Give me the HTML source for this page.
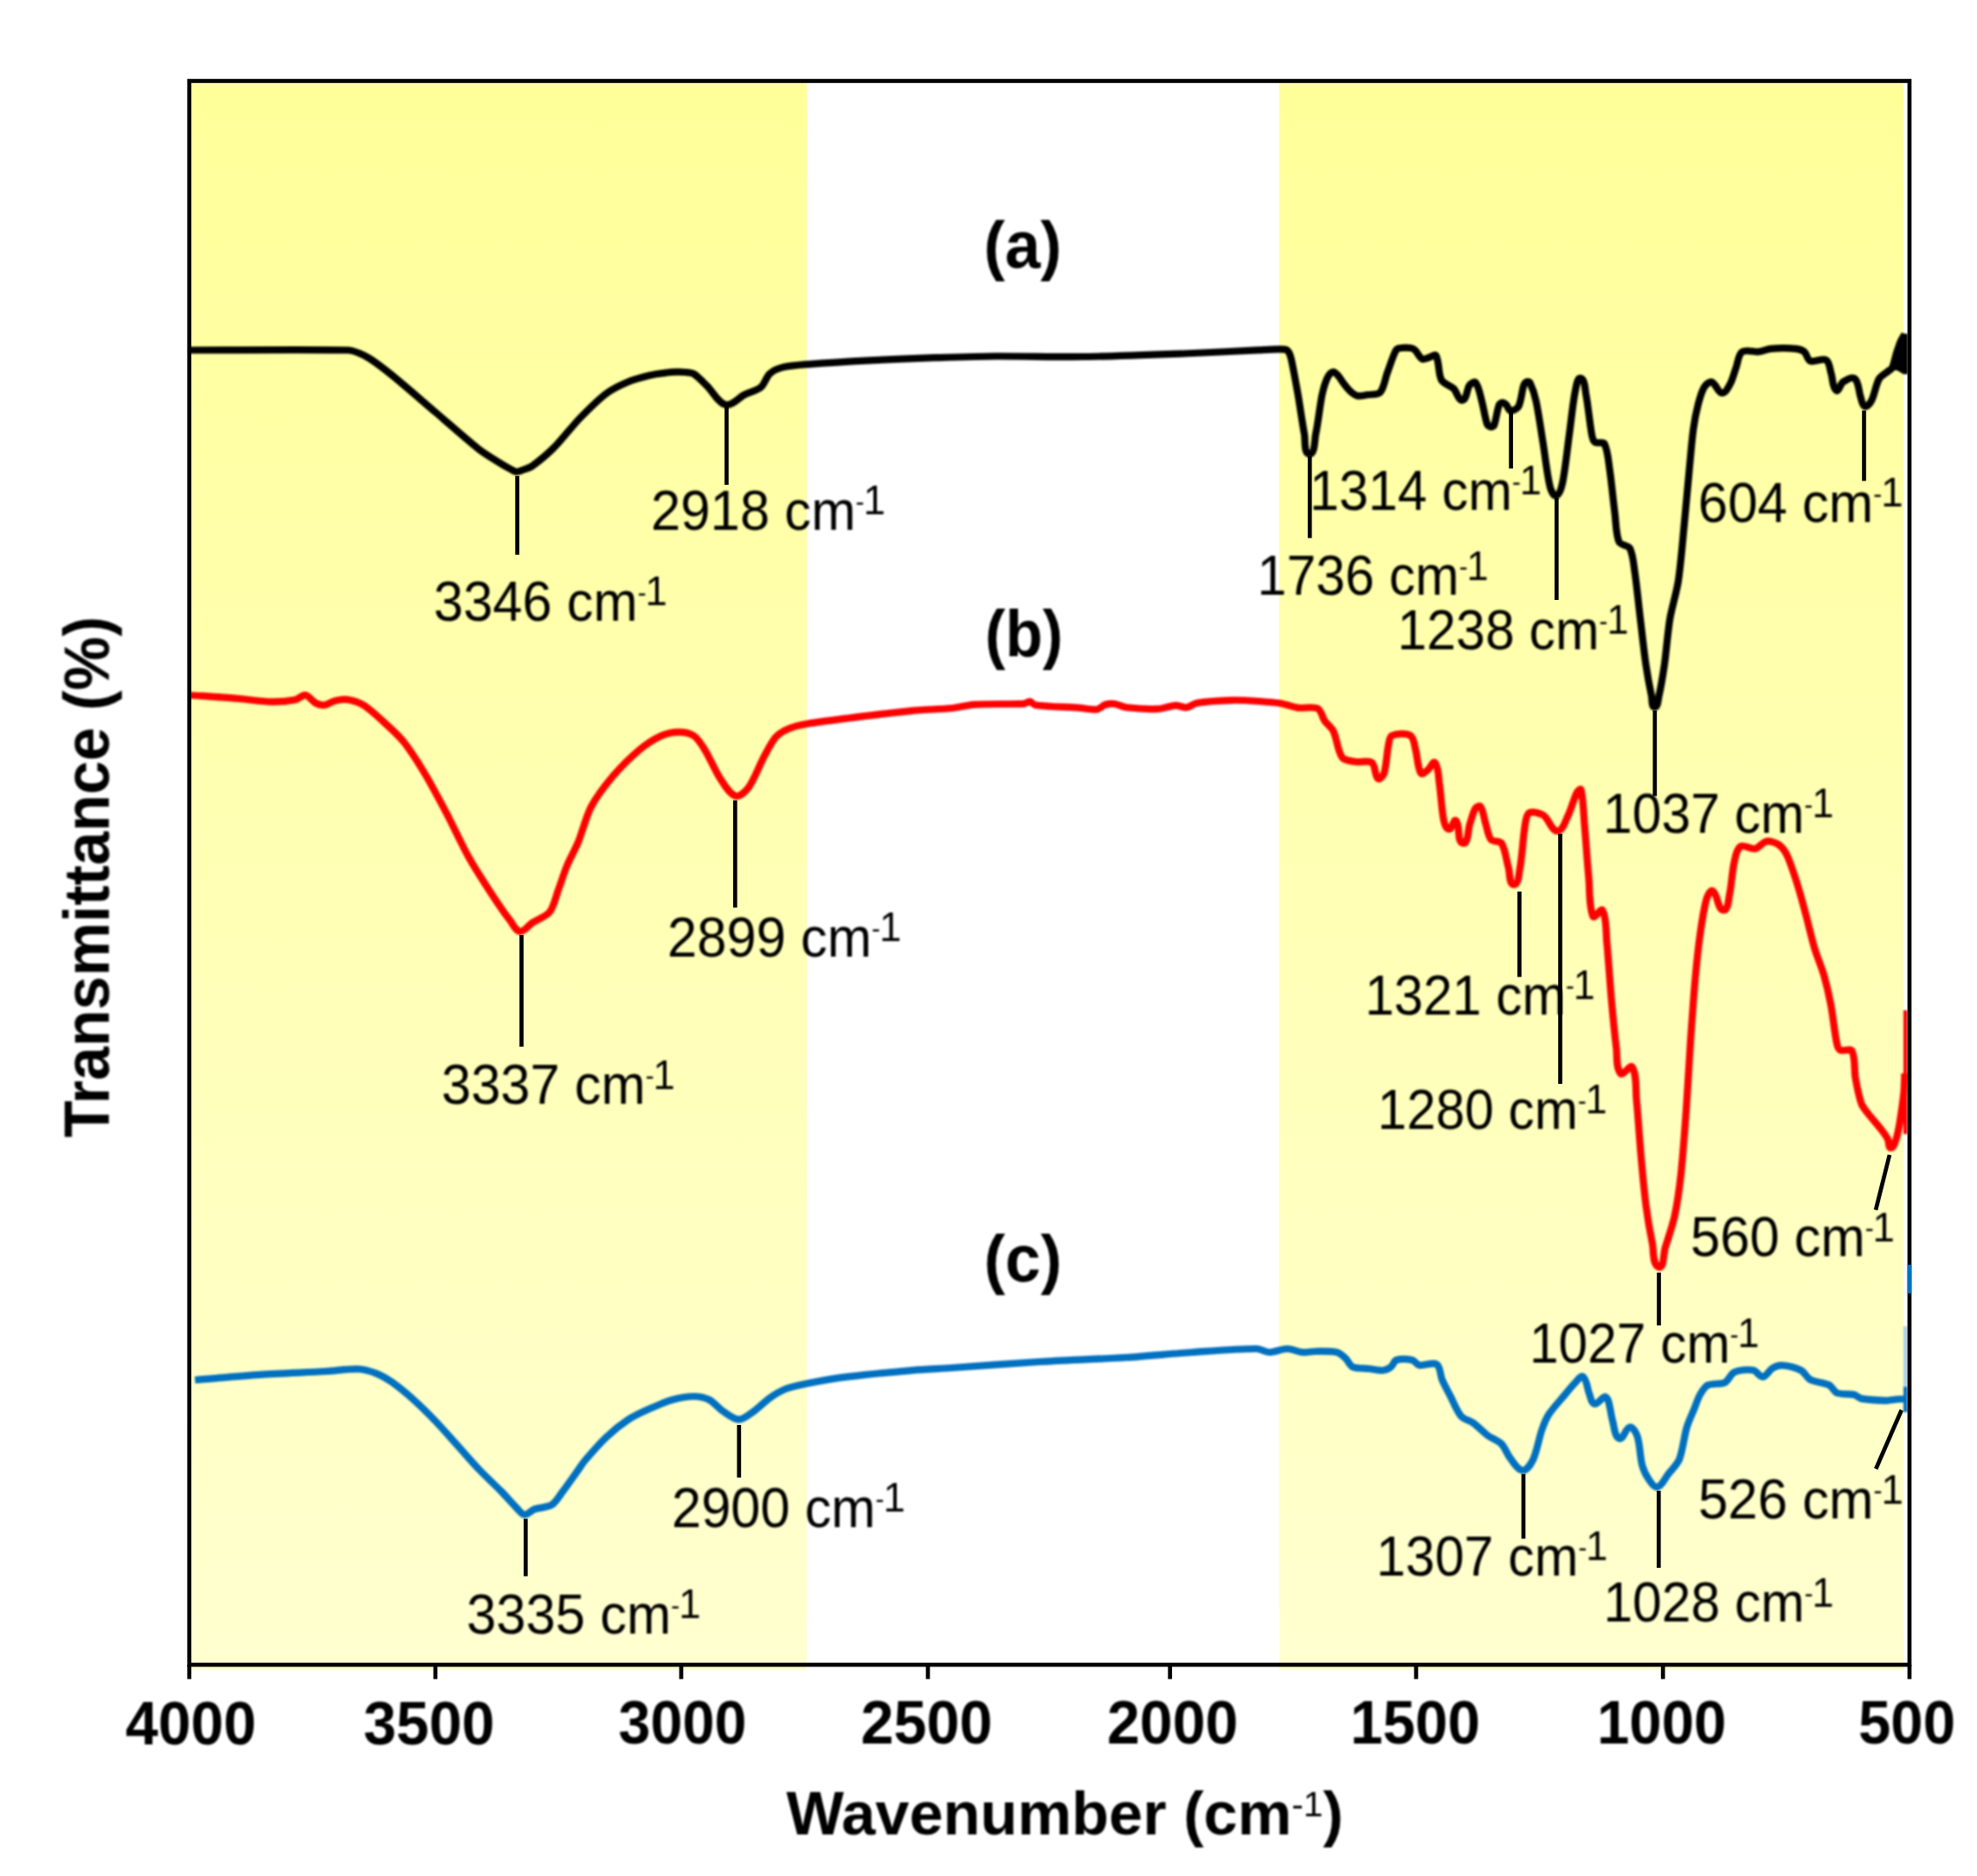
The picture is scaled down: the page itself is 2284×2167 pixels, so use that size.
<!DOCTYPE html>
<html><head><meta charset="utf-8"><title>FTIR spectra</title>
<style>
html,body{margin:0;padding:0;background:#fff}
svg{display:block}
text{font-family:"Liberation Sans",sans-serif;fill:#000}
.b{font-weight:bold}
.c{fill:none;stroke-width:8.2;stroke-linejoin:round;stroke-linecap:butt}
.l{stroke:#000;stroke-width:4.7;fill:none}
</style></head><body>
<svg width="2284" height="2167" viewBox="0 0 2284 2167">
<defs><filter id="sf" x="-2%" y="-2%" width="104%" height="104%" filterUnits="objectBoundingBox"><feGaussianBlur stdDeviation="1"/></filter><linearGradient id="yg" x1="0" y1="0" x2="0" y2="1"><stop offset="0" stop-color="#ffff99"/><stop offset="1" stop-color="#ffffd0"/></linearGradient></defs>
<rect width="2284" height="2167" fill="#fff"/>
<rect x="219" y="94" width="713" height="1835" fill="url(#yg)"/>
<rect x="1477.7" y="94" width="721.5" height="1835" fill="url(#yg)"/>
<g filter="url(#sf)">
<path class="c" stroke="#000" d="M218.0,404.5C269.5,404.5 350.5,403.6 402.0,404.5C405.8,404.6 411.5,406.6 415.0,408.0C418.7,409.4 424.3,412.3 427.6,414.5C435.0,419.4 446.1,427.9 453.0,433.5C467.4,445.2 489.4,464.5 503.5,476.5C517.6,488.5 539.4,508.0 554.0,519.5C560.7,524.7 572.2,531.5 579.4,536.0C582.3,537.8 587.0,540.4 590.0,542.0C591.9,543.0 594.9,544.9 597.0,545.0C599.3,545.1 602.8,543.3 605.0,542.5C607.8,541.5 612.4,540.2 614.8,538.4C622.3,532.9 633.5,523.6 640.0,517.0C649.0,508.0 661.2,492.1 670.0,483.0C678.2,474.6 691.2,461.5 700.6,454.5C707.0,449.7 718.5,444.1 725.9,441.0C732.7,438.2 743.9,435.2 751.0,433.5C756.2,432.3 764.7,431.2 770.0,430.5C773.2,430.1 778.3,429.8 781.5,429.7C784.4,429.6 789.1,429.7 792.0,430.0C794.8,430.3 799.4,430.5 801.7,432.0C806.6,435.1 812.8,442.0 817.0,446.0C823.1,451.9 830.1,465.7 838.4,467.6C845.1,469.2 853.9,459.1 860.0,456.0C865.2,453.4 874.5,451.1 879.0,447.4C883.0,444.1 885.3,435.5 889.0,432.0C892.2,428.9 898.7,425.7 903.0,424.6C911.2,422.5 924.6,421.5 933.0,420.8C952.9,419.2 984.1,417.3 1004.0,416.3C1025.3,415.2 1058.7,413.9 1080.0,413.2C1099.6,412.6 1130.4,411.6 1150.0,411.5C1178.5,411.3 1223.2,412.4 1251.7,412.0C1287.1,411.5 1342.6,409.3 1378.0,408.0C1399.3,407.2 1432.7,405.3 1454.0,404.4C1462.5,404.0 1475.9,403.0 1484.4,403.6C1486.0,403.7 1488.2,405.6 1489.0,407.0C1490.4,409.2 1491.4,413.3 1492.0,415.8C1494.4,427.0 1497.6,444.7 1499.6,456.0C1501.8,468.8 1504.6,489.0 1507.0,501.7C1508.2,508.2 1506.1,524.5 1512.7,524.5C1519.4,524.5 1518.6,508.3 1520.0,501.7C1522.7,489.0 1524.8,468.7 1527.4,456.0C1528.6,450.3 1531.2,441.3 1533.7,436.0C1534.8,433.8 1537.5,430.1 1540.0,429.7C1542.0,429.4 1544.6,432.5 1546.0,434.0C1548.2,436.4 1550.7,441.0 1552.7,443.6C1554.6,446.1 1557.7,449.9 1560.0,452.0C1562.0,453.8 1565.5,456.7 1568.2,457.2C1571.5,457.9 1576.7,456.5 1580.0,456.0C1584.1,455.4 1591.7,456.3 1594.5,453.2C1598.9,448.3 1600.3,437.2 1602.6,431.0C1605.4,423.6 1609.0,411.6 1612.7,404.6C1613.5,403.1 1616.4,402.2 1618.0,402.0C1621.3,401.5 1626.7,401.5 1630.0,402.0C1631.6,402.2 1633.9,403.5 1635.0,404.6C1637.6,407.1 1639.8,413.0 1643.0,414.7C1645.0,415.8 1648.8,413.6 1651.0,413.0C1653.3,412.4 1657.9,408.7 1659.0,410.7C1662.9,417.8 1661.5,431.8 1665.3,439.0C1667.6,443.3 1676.0,445.6 1679.5,449.0C1682.9,452.2 1685.0,463.3 1689.6,462.3C1694.8,461.2 1694.5,449.3 1697.7,445.0C1699.0,443.3 1703.5,440.3 1704.8,442.0C1708.7,447.0 1710.2,457.2 1711.9,463.3C1713.9,470.6 1715.6,482.4 1718.0,489.6C1718.5,491.0 1720.6,492.6 1722.0,493.0C1723.2,493.3 1725.6,492.7 1726.0,491.6C1728.5,485.1 1729.5,473.9 1732.0,467.4C1732.5,466.2 1734.7,465.0 1736.0,465.0C1737.3,465.0 1739.1,466.5 1740.0,467.4C1741.7,469.1 1742.8,474.1 1745.2,474.4C1748.1,474.8 1753.1,472.0 1754.4,469.4C1757.6,463.2 1758.1,451.7 1760.4,445.0C1760.9,443.6 1762.6,441.6 1764.0,441.0C1764.9,440.6 1767.1,441.1 1767.5,442.0C1770.2,447.7 1773.3,457.2 1774.6,463.3C1777.5,476.8 1780.5,498.3 1782.7,511.9C1785.0,526.0 1787.3,548.5 1790.8,562.4C1791.6,565.8 1794.6,573.5 1797.9,572.6C1802.2,571.4 1804.1,562.7 1805.0,558.4C1808.3,542.7 1810.8,517.6 1813.0,501.7C1815.0,487.6 1817.1,465.2 1820.0,451.2C1820.9,446.9 1822.1,435.6 1826.2,437.0C1831.3,438.7 1831.2,449.9 1832.2,455.2C1834.8,468.7 1836.7,490.3 1839.3,503.8C1839.7,506.0 1841.1,509.8 1843.0,511.0C1845.5,512.6 1852.1,509.9 1853.5,512.5C1857.5,520.0 1858.3,533.8 1859.6,542.2C1861.7,556.3 1863.8,578.7 1865.6,592.8C1866.8,602.1 1866.8,617.4 1870.5,626.0C1872.1,629.7 1881.1,629.8 1883.0,633.4C1886.6,640.5 1887.5,653.3 1888.7,661.2C1890.9,676.1 1893.2,699.6 1895.0,714.5C1896.8,729.4 1899.3,752.9 1901.5,767.8C1903.0,778.0 1905.9,793.9 1908.0,804.0C1908.8,807.7 1907.8,816.9 1911.6,816.9C1915.5,816.9 1915.6,807.8 1916.5,804.0C1918.8,794.0 1921.4,778.0 1922.9,767.8C1925.0,752.9 1926.8,729.3 1929.3,714.5C1931.3,702.5 1936.9,684.1 1938.8,672.0C1941.5,654.7 1943.7,627.4 1945.4,610.0C1947.2,591.5 1949.7,562.5 1951.5,544.0C1952.8,530.5 1954.5,509.2 1956.3,495.7C1957.4,487.4 1959.9,474.6 1962.0,466.5C1963.5,460.9 1965.9,451.9 1969.0,447.0C1970.5,444.5 1974.9,440.4 1977.7,441.3C1982.3,442.9 1984.6,453.6 1989.4,454.0C1993.4,454.4 1997.1,446.8 1999.0,443.2C2001.8,438.1 2003.9,429.2 2005.9,423.8C2007.7,418.9 2008.3,409.2 2012.7,406.3C2017.2,403.3 2026.6,406.9 2032.0,406.3C2035.9,405.9 2041.8,403.1 2045.7,402.8C2053.8,402.1 2066.7,402.1 2074.8,402.8C2077.7,403.1 2082.3,404.4 2084.5,406.3C2087.2,408.6 2088.0,415.7 2091.3,417.0C2096.1,418.9 2105.4,413.3 2109.8,416.0C2113.8,418.4 2114.1,427.2 2115.6,431.6C2117.4,437.0 2116.8,447.7 2121.4,451.0C2124.2,453.0 2126.3,443.2 2129.2,441.3C2132.5,439.2 2139.8,434.8 2142.8,437.4C2147.6,441.5 2147.4,452.9 2149.6,458.8C2150.7,461.9 2151.4,468.5 2154.5,469.5C2157.2,470.4 2160.9,465.3 2162.2,462.7C2165.6,456.0 2167.3,443.9 2171.0,437.4C2172.9,434.0 2178.7,431.0 2181.7,428.5C2182.9,427.5 2185.4,426.4 2186.0,425.0C2188.0,420.5 2189.5,412.7 2191.0,408.0C2192.3,404.0 2194.3,397.8 2196.0,394.0C2197.0,391.6 2199.2,388.2 2200.5,386.0"/>
<path d="M2186,427L2199,385.5L2204,385.5L2204,432.3L2199,432.3L2192,428Z" fill="#000"/>
<path class="c" stroke="#ff0000" d="M220.0,803.0C235.7,804.1 260.3,805.7 275.9,807.0C286.5,807.9 303.1,810.5 313.8,810.7C321.6,810.8 333.9,809.7 341.6,808.2C345.0,807.5 349.5,802.4 353.0,803.0C357.0,803.7 360.8,810.1 364.4,812.0C367.0,813.4 371.6,814.8 374.5,814.5C378.3,814.1 383.3,810.2 387.0,809.4C391.2,808.5 398.1,807.5 402.3,808.2C407.5,809.0 415.5,811.8 420.0,814.5C426.2,818.3 434.6,826.1 440.0,831.0C447.4,837.7 459.3,848.2 465.6,856.0C473.7,865.9 484.4,883.0 491.0,894.0C498.5,906.5 509.2,926.8 516.0,939.7C523.3,953.7 533.7,976.2 541.4,990.0C547.9,1001.7 559.4,1019.5 566.7,1030.7C572.8,1040.1 582.7,1054.7 589.5,1063.6C592.3,1067.4 596.2,1075.6 600.9,1076.0C605.7,1076.5 610.8,1068.6 614.8,1066.0C620.4,1062.3 630.9,1058.7 635.0,1053.5C639.8,1047.5 642.3,1035.2 645.0,1028.0C647.9,1020.2 651.8,1007.7 655.0,1000.0C658.3,992.2 664.8,980.5 668.0,972.6C672.6,961.4 677.3,942.7 682.9,932.0C688.6,921.3 700.2,906.0 708.0,896.7C715.8,887.5 729.3,874.0 738.5,866.3C745.0,860.9 756.1,853.5 763.8,850.0C769.1,847.6 778.2,845.6 784.0,845.6C789.1,845.6 797.5,847.1 801.7,850.0C806.5,853.3 811.4,861.4 814.4,866.3C819.9,875.2 826.2,890.5 832.0,899.2C836.2,905.5 842.6,917.3 849.8,919.5C854.7,921.0 862.0,913.5 865.0,909.3C871.5,900.3 877.4,883.7 882.7,874.0C886.3,867.4 891.5,856.5 896.6,851.0C900.2,847.0 908.0,843.0 913.0,841.0C918.3,838.8 927.3,837.0 933.0,836.0C945.8,833.8 966.0,831.3 978.8,829.7C1000.0,827.0 1033.3,822.9 1054.6,820.8C1067.3,819.6 1087.3,819.3 1100.0,818.0C1107.1,817.3 1118.1,814.2 1125.3,813.8C1141.6,812.8 1167.2,813.7 1183.5,812.8C1185.4,812.7 1187.9,810.0 1189.8,810.3C1191.9,810.6 1193.9,814.2 1196.0,814.5C1210.1,816.3 1232.5,816.6 1246.7,817.6C1252.4,818.0 1261.3,820.2 1267.0,819.5C1270.2,819.1 1274.0,815.0 1277.0,814.0C1279.7,813.1 1284.2,812.6 1287.0,813.0C1291.4,813.6 1297.9,816.8 1302.3,817.3C1312.2,818.4 1327.8,819.3 1337.7,818.9C1343.5,818.6 1352.2,815.1 1358.0,814.8C1361.6,814.6 1367.0,817.6 1370.6,817.2C1374.3,816.8 1379.3,812.6 1383.0,812.0C1394.3,810.2 1412.3,809.1 1423.7,808.8C1432.2,808.6 1445.5,809.4 1454.0,810.0C1461.1,810.5 1472.4,811.3 1479.4,812.5C1485.2,813.5 1493.8,816.8 1499.6,817.6C1505.9,818.5 1516.6,815.6 1522.3,818.4C1526.4,820.4 1527.7,828.8 1530.3,832.6C1532.8,836.2 1538.6,840.7 1540.5,844.7C1544.4,852.8 1545.3,867.8 1550.6,875.0C1553.4,878.8 1562.1,879.2 1566.8,880.0C1571.8,880.9 1581.0,877.9 1585.0,881.0C1589.4,884.4 1587.9,895.8 1592.0,899.4C1594.0,901.1 1598.2,895.8 1599.0,893.3C1601.7,884.6 1602.1,870.0 1604.0,861.0C1604.7,857.7 1605.0,851.1 1608.0,849.8C1613.5,847.4 1624.4,846.6 1629.5,849.8C1633.8,852.5 1634.2,862.1 1635.6,867.0C1637.6,874.3 1637.6,886.9 1641.6,893.3C1643.0,895.4 1647.7,890.8 1649.7,889.3C1652.3,887.3 1655.7,878.5 1657.8,881.0C1662.2,886.4 1661.8,898.5 1662.9,905.4C1664.7,917.3 1665.5,936.2 1668.0,948.0C1668.7,951.2 1670.7,958.0 1674.0,958.0C1677.6,958.0 1679.5,945.5 1682.0,948.0C1687.4,953.4 1682.6,972.2 1690.0,974.0C1696.4,975.6 1695.8,958.2 1698.0,952.0C1699.8,946.9 1701.6,938.4 1704.4,933.8C1705.3,932.3 1709.4,930.2 1710.4,931.7C1713.7,936.6 1714.7,946.3 1716.5,952.0C1718.1,957.1 1719.2,965.9 1722.6,970.0C1724.9,972.7 1732.8,971.0 1734.7,974.0C1739.1,981.1 1740.4,994.6 1742.8,1002.6C1744.4,1008.0 1743.3,1021.8 1748.9,1021.8C1754.6,1021.8 1754.9,1008.2 1756.0,1002.6C1758.6,988.6 1759.6,966.1 1762.0,952.0C1762.7,948.1 1763.4,940.5 1767.0,938.8C1771.2,936.8 1779.4,939.4 1783.3,941.9C1789.0,945.6 1792.6,960.0 1799.4,960.0C1805.5,960.0 1808.9,947.4 1811.6,941.9C1815.1,934.9 1818.2,922.7 1821.7,915.6C1822.4,914.1 1826.1,910.4 1826.5,912.0C1829.2,923.3 1829.6,941.8 1830.6,953.4C1832.1,970.5 1833.9,997.5 1835.5,1014.6C1836.7,1027.0 1835.5,1047.3 1840.4,1058.7C1841.9,1062.1 1849.6,1048.2 1851.4,1051.4C1856.3,1060.5 1855.3,1077.7 1856.3,1088.0C1858.0,1105.1 1859.7,1132.2 1861.2,1149.3C1862.7,1166.5 1865.2,1193.4 1867.3,1210.5C1868.3,1218.8 1866.8,1233.6 1872.2,1240.0C1875.0,1243.3 1883.5,1228.8 1885.7,1232.5C1891.2,1241.6 1889.5,1259.7 1890.6,1270.3C1892.3,1287.4 1894.0,1314.4 1895.5,1331.5C1897.0,1348.7 1899.4,1375.6 1901.6,1392.7C1903.2,1405.1 1906.5,1424.5 1909.0,1436.8C1910.6,1444.4 1908.9,1461.2 1916.3,1463.7C1922.5,1465.8 1921.7,1447.9 1923.6,1441.7C1926.8,1431.5 1932.3,1415.5 1934.6,1405.0C1937.5,1391.4 1940.5,1369.8 1942.0,1356.0C1944.2,1335.5 1946.5,1303.2 1948.0,1282.6C1949.6,1260.3 1951.5,1225.3 1953.0,1203.0C1954.4,1182.6 1956.7,1150.4 1958.5,1130.0C1959.8,1116.0 1962.0,1093.9 1964.0,1080.0C1965.6,1068.4 1968.2,1050.2 1971.4,1039.0C1972.3,1035.7 1975.8,1027.5 1978.7,1029.3C1984.7,1033.1 1984.0,1050.5 1991.0,1051.4C1996.8,1052.1 1997.0,1037.5 1998.3,1031.8C2000.4,1022.3 2001.1,1007.0 2003.2,997.5C2004.5,991.8 2005.7,981.3 2010.5,978.0C2014.5,975.2 2022.9,981.4 2027.7,980.4C2032.0,979.5 2036.6,972.6 2041.0,971.8C2044.9,971.1 2051.3,973.3 2054.6,975.5C2058.2,978.0 2062.5,983.7 2064.4,987.7C2068.8,996.9 2073.5,1012.3 2076.6,1022.0C2079.7,1031.7 2083.8,1047.2 2086.4,1057.0C2089.2,1067.6 2093.1,1084.5 2096.2,1095.0C2098.8,1103.8 2104.4,1117.2 2107.0,1126.0C2109.7,1135.4 2113.2,1150.4 2115.0,1160.0C2117.4,1172.5 2119.4,1192.5 2122.0,1205.0C2122.5,1207.5 2123.8,1211.9 2126.0,1213.0C2129.4,1214.7 2137.7,1210.7 2139.5,1214.0C2143.7,1221.7 2141.9,1236.4 2143.5,1245.0C2145.0,1253.5 2147.6,1266.9 2150.5,1275.0C2151.9,1278.8 2156.2,1283.8 2158.7,1287.0C2162.5,1291.9 2169.0,1299.1 2172.8,1304.0C2175.3,1307.2 2179.1,1312.4 2181.0,1316.0C2182.4,1318.6 2181.5,1326.0 2184.5,1326.0C2187.8,1326.0 2189.4,1319.1 2190.5,1316.0C2192.2,1311.1 2193.6,1303.1 2194.5,1298.0C2195.5,1292.4 2196.7,1283.6 2197.5,1278.0C2198.1,1273.5 2199.1,1266.5 2199.5,1262.0C2200.0,1255.9 2200.2,1246.2 2200.5,1240.0"/>
<path d="M2201.3,1167V1310" stroke="#ff0000" stroke-width="4.6" fill="none"/>
<path class="c" stroke="#0070c0" d="M225.3,1594.0C246.5,1592.3 279.8,1589.2 301.0,1587.8C322.3,1586.4 355.7,1585.2 377.0,1584.0C387.6,1583.4 404.3,1581.0 415.0,1581.5C420.8,1581.8 429.6,1584.5 435.0,1586.6C440.4,1588.7 448.3,1593.4 453.0,1596.7C460.4,1601.9 471.3,1611.0 478.0,1617.0C485.4,1623.7 496.6,1634.8 503.5,1642.0C510.8,1649.6 521.7,1662.2 528.8,1670.0C535.9,1677.8 546.7,1690.4 554.0,1698.0C560.9,1705.2 572.4,1715.9 579.4,1723.0C584.5,1728.2 591.9,1736.9 597.0,1742.0C599.3,1744.3 602.7,1749.5 606.0,1749.7C609.6,1749.9 613.9,1744.6 617.3,1743.4C622.8,1741.4 632.6,1741.4 637.5,1738.3C642.2,1735.4 646.7,1727.4 650.0,1723.0C655.2,1716.1 663.0,1705.0 668.0,1698.0C670.1,1695.1 673.0,1690.4 675.3,1687.7C682.1,1679.7 693.0,1667.2 700.6,1660.0C707.2,1653.7 718.3,1644.7 725.9,1639.7C732.5,1635.4 743.8,1630.2 751.0,1627.0C758.0,1623.9 769.1,1619.0 776.5,1617.0C783.4,1615.1 794.6,1613.0 801.7,1613.0C806.8,1613.0 814.9,1614.7 819.5,1617.0C824.4,1619.5 830.0,1626.5 834.6,1629.6C839.6,1632.9 847.6,1639.5 853.6,1639.7C858.8,1639.9 865.7,1633.8 870.0,1630.8C875.9,1626.7 884.1,1618.5 890.0,1614.4C894.7,1611.1 902.6,1606.4 908.0,1604.3C914.7,1601.7 925.9,1599.4 933.0,1598.0C945.8,1595.5 965.9,1592.0 978.8,1590.4C1000.0,1587.8 1033.3,1584.6 1054.6,1582.8C1067.3,1581.7 1087.3,1580.9 1100.0,1580.0C1128.3,1578.1 1172.7,1574.7 1201.0,1573.0C1229.3,1571.3 1273.7,1569.8 1302.0,1568.0C1323.3,1566.7 1356.7,1563.4 1378.0,1562.0C1398.6,1560.6 1430.9,1558.0 1451.5,1558.0C1455.9,1558.0 1462.3,1562.0 1466.7,1562.0C1472.5,1562.0 1481.2,1558.0 1487.0,1558.0C1492.1,1558.0 1499.6,1561.5 1504.6,1562.0C1508.9,1562.4 1515.7,1561.0 1520.0,1561.0C1526.9,1561.0 1537.8,1560.5 1544.5,1562.0C1547.9,1562.8 1552.1,1566.7 1554.6,1569.0C1557.2,1571.5 1559.4,1577.5 1562.7,1579.0C1567.4,1581.1 1575.9,1580.4 1581.0,1581.0C1585.5,1581.5 1592.5,1583.3 1597.0,1583.0C1600.0,1582.8 1604.6,1580.8 1607.0,1579.0C1609.3,1577.3 1610.6,1571.9 1613.3,1571.0C1618.1,1569.4 1626.5,1569.9 1631.5,1571.0C1634.3,1571.6 1636.8,1576.5 1639.6,1577.0C1645.2,1578.0 1655.0,1573.0 1659.8,1576.0C1664.2,1578.7 1663.9,1588.6 1665.9,1593.3C1668.4,1599.1 1673.1,1607.9 1676.0,1613.5C1679.3,1619.8 1683.4,1630.4 1688.0,1635.8C1691.0,1639.3 1698.6,1641.2 1702.3,1643.9C1707.2,1647.4 1713.7,1654.4 1718.5,1658.0C1722.8,1661.2 1730.9,1664.2 1734.7,1668.0C1738.5,1671.8 1741.4,1680.2 1744.8,1684.4C1748.3,1688.8 1753.4,1698.1 1759.0,1698.5C1763.8,1698.9 1768.9,1690.7 1771.0,1686.4C1775.3,1677.3 1777.9,1661.5 1781.2,1652.0C1783.0,1646.7 1786.3,1638.5 1789.3,1633.8C1793.7,1627.0 1802.3,1617.7 1807.5,1611.5C1810.8,1607.5 1816.0,1601.1 1819.7,1597.4C1822.0,1595.1 1826.2,1588.4 1828.8,1590.3C1833.4,1593.7 1833.7,1604.2 1835.9,1609.5C1837.4,1613.0 1838.3,1620.8 1842.0,1621.6C1846.0,1622.5 1850.0,1614.4 1854.0,1613.5C1855.6,1613.1 1857.5,1616.4 1858.0,1618.0C1860.1,1624.5 1861.3,1635.4 1863.2,1642.0C1864.9,1647.7 1865.3,1659.9 1870.9,1661.7C1875.7,1663.3 1878.0,1649.0 1883.0,1648.5C1886.9,1648.1 1890.5,1655.8 1891.7,1659.5C1894.6,1668.4 1894.8,1683.4 1897.2,1692.5C1898.5,1697.4 1902.0,1704.8 1904.9,1709.0C1907.0,1712.0 1911.2,1718.6 1914.8,1717.7C1919.9,1716.4 1923.6,1707.5 1926.8,1703.4C1930.6,1698.6 1937.7,1691.6 1940.0,1685.9C1944.0,1675.9 1945.7,1658.8 1948.8,1648.5C1950.7,1642.2 1955.1,1632.7 1957.6,1626.6C1959.4,1622.2 1961.6,1615.1 1964.0,1611.0C1966.0,1607.6 1969.4,1601.7 1973.0,1600.0C1978.0,1597.6 1987.7,1599.4 1992.7,1597.0C1996.8,1595.0 1999.5,1586.8 2003.7,1585.0C2009.4,1582.5 2019.5,1581.7 2025.6,1582.7C2029.3,1583.3 2032.9,1590.8 2036.6,1590.4C2040.7,1590.0 2044.1,1582.6 2047.6,1580.5C2050.3,1578.9 2055.3,1577.0 2058.5,1577.2C2064.8,1577.6 2074.8,1579.9 2080.5,1582.7C2084.4,1584.6 2087.6,1591.7 2091.5,1593.7C2097.1,1596.7 2107.7,1597.2 2113.4,1600.0C2116.6,1601.6 2118.9,1607.7 2122.2,1609.0C2127.4,1611.0 2136.6,1609.7 2142.0,1611.0C2144.7,1611.6 2148.0,1615.1 2150.7,1615.6C2158.6,1617.0 2171.3,1617.6 2179.3,1617.8C2182.3,1617.9 2187.0,1616.8 2190.0,1616.5C2192.5,1616.3 2196.5,1616.1 2199.0,1616.0"/>
<path d="M2201.3,1602V1631.2" stroke="#0070c0" stroke-width="4.6" fill="none"/>
<path d="M2201.3,1532V1602" stroke="#0070c0" stroke-width="4.6" stroke-opacity=".33" fill="none"/>
</g>
<rect x="218.7" y="93.5" width="1987.3" height="1829.5" fill="none" stroke="#000" stroke-width="4.7"/>
<path d="M2206,1461V1494" stroke="#0070c0" stroke-width="4.6" fill="none"/>
<path class="l" d="M218.7,1923V1939.5"/><path class="l" d="M503,1923V1939.5"/><path class="l" d="M787,1923V1939.5"/><path class="l" d="M1072,1923V1939.5"/><path class="l" d="M1351.7,1923V1939.5"/><path class="l" d="M1636,1923V1939.5"/><path class="l" d="M1921.2,1923V1939.5"/><path class="l" d="M2206,1923V1939.5"/>
<path class="l" d="M597.6,549.8L597.6,640.8"/><path class="l" d="M839.4,470L839.4,560"/><path class="l" d="M1513.2,527L1513.2,621.5"/><path class="l" d="M1745.6,475.4L1745.6,541.2"/><path class="l" d="M1798.3,575L1798.3,693"/><path class="l" d="M2153.5,474.3L2153.5,555.5"/><path class="l" d="M1911.8,820.6L1911.8,919.5"/><path class="l" d="M602.5,1080L602.5,1209"/><path class="l" d="M849.3,924.5L849.3,1048.4"/><path class="l" d="M1755.4,1029.8L1755.4,1128.5"/><path class="l" d="M1802.5,963L1802.5,1252"/><path class="l" d="M2183,1334L2167,1397.6"/><path class="l" d="M1916.5,1470L1916.5,1531"/><path class="l" d="M607.3,1754.4L607.3,1820.7"/><path class="l" d="M853.8,1646L853.8,1706.7"/><path class="l" d="M1760,1702.6L1760,1777.4"/><path class="l" d="M1916.3,1722L1916.3,1811"/><path class="l" d="M2196.8,1628.8L2167.2,1696.8"/>
<g filter="url(#sf)">
<g transform="translate(501,716.7) scale(0.9912,1.05)"><text id="L0" font-size="62">3346 cm<tspan font-size="30" dy="-21">-</tspan><tspan font-size="46" dy="4" dx="-1">1</tspan></text></g>
<g transform="translate(752,611.8) scale(0.9949,1.05)"><text id="L1" font-size="62">2918 cm<tspan font-size="30" dy="-21">-</tspan><tspan font-size="46" dy="4" dx="-1">1</tspan></text></g>
<g transform="translate(1452.6,687.5) scale(0.9802,1.05)"><text id="L2" font-size="62">1736 cm<tspan font-size="30" dy="-21">-</tspan><tspan font-size="46" dy="4" dx="-1">1</tspan></text></g>
<g transform="translate(1513,588.7) scale(0.9838,1.05)"><text id="L3" font-size="62">1314 cm<tspan font-size="30" dy="-21">-</tspan><tspan font-size="46" dy="4" dx="-1">1</tspan></text></g>
<g transform="translate(1614.5,749.7) scale(0.9802,1.05)"><text id="L4" font-size="62">1238 cm<tspan font-size="30" dy="-21">-</tspan><tspan font-size="46" dy="4" dx="-1">1</tspan></text></g>
<g transform="translate(1961.8,602.6) scale(0.9962,1.05)"><text id="L5" font-size="62">604 cm<tspan font-size="30" dy="-21">-</tspan><tspan font-size="46" dy="4" dx="-1">1</tspan></text></g>
<g transform="translate(1852,962) scale(0.9783,1.05)"><text id="L6" font-size="62">1037 cm<tspan font-size="30" dy="-21">-</tspan><tspan font-size="46" dy="4" dx="-1">1</tspan></text></g>
<g transform="translate(510,1275.5) scale(0.9912,1.05)"><text id="L7" font-size="62">3337 cm<tspan font-size="30" dy="-21">-</tspan><tspan font-size="46" dy="4" dx="-1">1</tspan></text></g>
<g transform="translate(771,1105.3) scale(0.9930,1.05)"><text id="L8" font-size="62">2899 cm<tspan font-size="30" dy="-21">-</tspan><tspan font-size="46" dy="4" dx="-1">1</tspan></text></g>
<g transform="translate(1577,1171.5) scale(0.9754,1.05)"><text id="L9" font-size="62">1321 cm<tspan font-size="30" dy="-21">-</tspan><tspan font-size="46" dy="4" dx="-1">1</tspan></text></g>
<g transform="translate(1591.6,1304.2) scale(0.9728,1.05)"><text id="L10" font-size="62">1280 cm<tspan font-size="30" dy="-21">-</tspan><tspan font-size="46" dy="4" dx="-1">1</tspan></text></g>
<g transform="translate(1953,1451.5) scale(0.9920,1.05)"><text id="L11" font-size="62">560 cm<tspan font-size="30" dy="-21">-</tspan><tspan font-size="46" dy="4" dx="-1">1</tspan></text></g>
<g transform="translate(1767,1574) scale(0.9750,1.05)"><text id="L12" font-size="62">1027 cm<tspan font-size="30" dy="-21">-</tspan><tspan font-size="46" dy="4" dx="-1">1</tspan></text></g>
<g transform="translate(539,1886.6) scale(0.9938,1.05)"><text id="L13" font-size="62">3335 cm<tspan font-size="30" dy="-21">-</tspan><tspan font-size="46" dy="4" dx="-1">1</tspan></text></g>
<g transform="translate(776,1763.6) scale(0.9905,1.05)"><text id="L14" font-size="62">2900 cm<tspan font-size="30" dy="-21">-</tspan><tspan font-size="46" dy="4" dx="-1">1</tspan></text></g>
<g transform="translate(1590,1820.3) scale(0.9824,1.05)"><text id="L15" font-size="62">1307 cm<tspan font-size="30" dy="-21">-</tspan><tspan font-size="46" dy="4" dx="-1">1</tspan></text></g>
<g transform="translate(1852.4,1873.4) scale(0.9772,1.05)"><text id="L16" font-size="62">1028 cm<tspan font-size="30" dy="-21">-</tspan><tspan font-size="46" dy="4" dx="-1">1</tspan></text></g>
<g transform="translate(1962,1754.5) scale(0.9962,1.05)"><text id="L17" font-size="62">526 cm<tspan font-size="30" dy="-21">-</tspan><tspan font-size="46" dy="4" dx="-1">1</tspan></text></g>
<g transform="translate(145,2014.5) scale(1,1.04)"><text id="T0" class="b" font-size="68" textLength="151" lengthAdjust="spacingAndGlyphs">4000</text></g>
<g transform="translate(420,2014.5) scale(1,1.04)"><text id="T1" class="b" font-size="68" textLength="151.5" lengthAdjust="spacingAndGlyphs">3500</text></g>
<g transform="translate(714.5,2014.5) scale(1,1.04)"><text id="T2" class="b" font-size="68" textLength="148" lengthAdjust="spacingAndGlyphs">3000</text></g>
<g transform="translate(994.6,2014.5) scale(1,1.04)"><text id="T3" class="b" font-size="68" textLength="152" lengthAdjust="spacingAndGlyphs">2500</text></g>
<g transform="translate(1279,2014.5) scale(1,1.04)"><text id="T4" class="b" font-size="68" textLength="151.5" lengthAdjust="spacingAndGlyphs">2000</text></g>
<g transform="translate(1560,2014.5) scale(1,1.04)"><text id="T5" class="b" font-size="68" textLength="150" lengthAdjust="spacingAndGlyphs">1500</text></g>
<g transform="translate(1845,2014.5) scale(1,1.04)"><text id="T6" class="b" font-size="68" textLength="149.5" lengthAdjust="spacingAndGlyphs">1000</text></g>
<g transform="translate(2147,2014.5) scale(1,1.04)"><text id="T7" class="b" font-size="68" textLength="112" lengthAdjust="spacingAndGlyphs">500</text></g>
<g transform="translate(908.4,2118.5) scale(1,1.03)"><text id="XT" class="b" font-size="69" textLength="643.6" lengthAdjust="spacingAndGlyphs">Wavenumber (cm<tspan font-size="40" font-weight="normal" dy="-19.5">-1</tspan><tspan dy="19.5">)</tspan></text></g>
<g transform="translate(126,1314) rotate(-90) scale(1,1.05)"><text id="YT" class="b" font-size="70" textLength="602" lengthAdjust="spacingAndGlyphs">Transmittance (%)</text></g>
<g transform="translate(1136.5,309.3) scale(1,1.05)"><text class="b" font-size="73" textLength="90" lengthAdjust="spacingAndGlyphs">(a)</text></g>
<g transform="translate(1138,758.5) scale(1,1.05)"><text class="b" font-size="73" textLength="90" lengthAdjust="spacingAndGlyphs">(b)</text></g>
<g transform="translate(1136.7,1479.7) scale(1,1.05)"><text class="b" font-size="73" textLength="90" lengthAdjust="spacingAndGlyphs">(c)</text></g>
</g>
</svg></body></html>
